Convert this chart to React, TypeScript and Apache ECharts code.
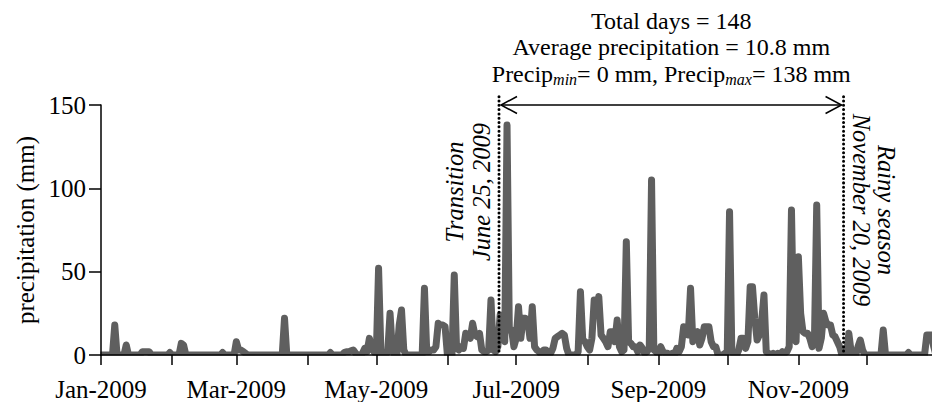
import React, { useEffect, useRef } from "react";
import * as echarts from "echarts";

// Daily precipitation (mm), 2009, one array per month
const jan = [0, 0, 0, 0, 0, 0, 18, 0, 0, 0, 0, 6, 0, 0, 0, 0, 0, 0, 2, 2, 2, 2, 0, 0, 0, 0, 0, 0, 0, 0, 1.5];
const feb = [0, 0, 0, 0, 7, 6, 0, 0, 0, 0, 0, 0, 0, 0, 0, 0, 0, 0, 0, 0, 0, 0, 1.5, 0, 0, 0, 0, 0];
const mar = [8, 3, 3, 2, 1, 0, 0, 0, 0, 0, 0, 0, 0, 0, 0, 0, 0, 0, 0, 0, 0, 22, 0, 0, 0, 0, 0, 0, 0, 0, 0];
const apr = [0, 0, 0, 0, 0, 0, 0, 0, 0, 0, 1.5, 0, 0, 0, 0, 0, 1.5, 2, 2, 2.5, 3, 1, 0, 0, 1, 4, 2, 10, 4, 2];
const may = [0, 52, 3, 0, 0, 2, 25, 3, 0, 0, 18, 27, 3, 0, 0, 0, 0, 0, 0, 0, 0, 40, 2, 2, 3, 3, 5, 19, 18, 18, 17];
const jun = [0, 0, 0, 48, 4, 3, 5, 4, 13, 12, 10, 19, 12, 11, 13, 3, 2, 2, 3, 33, 3, 2, 5, 24, 12, 8, 138, 15, 15, 5];
const jul = [10, 29, 10, 22, 22, 21, 10, 29, 5, 3, 2, 0, 3, 3, 0, 1, 4, 10, 11, 12, 13, 12, 4, 0, 0, 0, 0, 2, 38, 9, 8];
const aug = [5, 3, 10, 33, 28, 35, 12, 10, 8, 5, 14, 14, 8, 21, 5, 2, 3, 68, 8, 7, 5, 5, 2, 6, 4, 1, 2, 4, 105, 3, 2];
const sep = [0, 5, 2, 1, 1, 0, 1, 0, 4, 2, 5, 17, 16, 12, 40, 8, 12, 14, 6, 10, 17, 17, 17, 8, 5, 5, 0, 0, 0, 1];
const oct = [2, 86, 2, 0, 0, 3, 10, 10, 4, 8, 41, 41, 22, 9, 12, 20, 36, 2, 1, 0, 1, 0, 1, 0, 2, 1, 2, 5, 87, 10, 8];
const nov = [59, 25, 14, 13, 13, 10, 5, 8, 90, 4, 10, 25, 20, 18, 18, 12, 11, 8, 5, 0, 0, 0, 13, 2, 0, 0, 5, 9, 3, 0];
const dec = [0, 0, 0, 0, 0, 0, 0, 15, 0, 0, 0, 0, 0, 0, 0, 0, 0, 0, 1.5, 0, 0, 0, 0, 0, 0, 0, 12, 12, 12, 5, 0];

const months = [jan, feb, mar, apr, may, jun, jul, aug, sep, oct, nov, dec];

// Axis ticks (day of year, Jan 1 = 0)
const monthStartDays = [0, 31, 59, 90, 120, 151, 181, 212, 243, 273, 304, 334];
const labelDays = [0, 59, 120, 181, 243, 304];
const tickLabels = ["Jan-2009", "Mar-2009", "May-2009", "Jul-2009", "Sep-2009", "Nov-2009"];
const yMax = 150;
const yInterval = 50;

// Annotations
const transitionDay = 173.5;
const rainyDay = 323.7;
const transitionLabels = ["Transition", "June 25, 2009"];
const rainyLabels = ["November 20, 2009", "Rainy season"];
const statLine1 = "Total days = 148";
const statLine2 = "Average precipitation = 10.8 mm";
const statLine3 = "Precip{sub|min}= 0 mm, Precip{sub|max}= 138 mm";

const FONT = "Liberation Serif";

export default function App() {
  const ref = useRef<HTMLDivElement>(null);

  useEffect(() => {
    const chart = echarts.init(ref.current!, null, { renderer: "svg" });
    const daily = months.flat();
    const data = daily.map((v, i) => [i, v]);

    chart.setOption({
      animation: false,
      backgroundColor: "#fff",
      textStyle: { fontFamily: FONT },
      grid: { left: 101, top: 105, width: 835, height: 250, containLabel: false },
      xAxis: {
        type: "value",
        min: 0,
        max: 364,
        z: 5,
        splitLine: { show: false },
        axisLine: { show: true, lineStyle: { color: "#000", width: 1.5 } },
        axisTick: {
          show: true,
          inside: false,
          length: 10,
          lineStyle: { color: "#000", width: 1.5 },
          customValues: monthStartDays,
        },
        axisLabel: {
          show: true,
          margin: 22,
          color: "#000",
          fontSize: 25,
          fontFamily: FONT,
          customValues: labelDays,
          formatter: (v: number) => {
            const i = labelDays.indexOf(Math.round(v));
            return i >= 0 ? tickLabels[i] : "";
          },
        },
      },
      yAxis: {
        type: "value",
        min: 0,
        max: yMax,
        interval: yInterval,
        z: 5,
        splitLine: { show: false },
        axisLine: { show: true, lineStyle: { color: "#000", width: 1.5 } },
        axisTick: { show: true, inside: false, length: 12, lineStyle: { color: "#000", width: 1.5 } },
        axisLabel: { margin: 15, color: "#000", fontSize: 25, fontFamily: FONT },
        name: "precipitation (mm)",
        nameLocation: "middle",
        nameRotate: 90,
        nameGap: 59,
        nameTextStyle: { color: "#000", fontSize: 25, fontFamily: FONT },
      },
      series: [
        {
          type: "line",
          data,
          z: 2,
          silent: true,
          symbol: "none",
          showSymbol: false,
          lineStyle: { color: "#5f5f5f", width: 7, cap: "round", join: "round" },
          emphasis: { disabled: true },
        },
      ],
    });

    const px = (d: number, v: number) => chart.convertToPixel({ gridIndex: 0 }, [d, v]) as number[];
    const [x0, y0] = px(0, 0);
    const [, yTop] = px(0, 155);
    const [, yArrow] = px(0, yMax);
    const [tx] = px(transitionDay, 0);
    const [rx] = px(rainyDay, 0);
    const midX = (tx + rx) / 2;

    const dotStyle = { stroke: "#000", lineWidth: 3, lineDash: [0.01, 4.3], lineCap: "round" };
    const arrowStyle = { stroke: "#000", lineWidth: 1.5, fill: null };
    const italic = { fill: "#000", fontSize: 24.5, fontFamily: FONT, fontStyle: "italic", align: "center", verticalAlign: "middle" };
    const plain = { fill: "#000", fontSize: 24, fontFamily: FONT, align: "center", verticalAlign: "middle" };
    const midY = (y0 + yArrow) / 2;

    chart.setOption({
      graphic: [
        { type: "rect", z: 3, silent: true, shape: { x: x0 - 8, y: y0 + 0.6, width: 860, height: 8 }, style: { fill: "#fff" } },
        { type: "rect", z: 3, silent: true, shape: { x: x0 - 8, y: y0 - 10, width: 7.4, height: 18 }, style: { fill: "#fff" } },
        { type: "line", z: 10, silent: true, shape: { x1: tx, y1: yTop, x2: tx, y2: y0 }, style: dotStyle },
        { type: "line", z: 10, silent: true, shape: { x1: rx, y1: yTop, x2: rx, y2: y0 }, style: dotStyle },
        { type: "line", z: 10, silent: true, shape: { x1: tx + 2, y1: yArrow, x2: rx - 2, y2: yArrow }, style: arrowStyle },
        {
          type: "polyline", z: 10, silent: true,
          shape: { points: [[tx + 18, yArrow - 8.5], [tx + 2, yArrow], [tx + 18, yArrow + 8.5]] },
          style: arrowStyle,
        },
        {
          type: "polyline", z: 10, silent: true,
          shape: { points: [[rx - 18, yArrow - 8.5], [rx - 2, yArrow], [rx - 18, yArrow + 8.5]] },
          style: arrowStyle,
        },
        { type: "text", z: 10, silent: true, x: tx - 44.5, y: midY - 38, rotation: Math.PI / 2, style: { ...italic, text: transitionLabels[0] } },
        { type: "text", z: 10, silent: true, x: tx - 17.5, y: midY - 38, rotation: Math.PI / 2, style: { ...italic, text: transitionLabels[1] } },
        { type: "text", z: 10, silent: true, x: rx + 17.7, y: midY - 20, rotation: -Math.PI / 2, style: { ...italic, text: rainyLabels[0] } },
        { type: "text", z: 10, silent: true, x: rx + 43, y: midY - 20, rotation: -Math.PI / 2, style: { ...italic, text: rainyLabels[1] } },
        { type: "text", z: 10, silent: true, x: midX, y: 20.7, style: { ...plain, text: statLine1 } },
        { type: "text", z: 10, silent: true, x: midX, y: 47.2, style: { ...plain, text: statLine2 } },
        {
          type: "text", z: 10, silent: true, x: midX, y: 74.4,
          style: {
            ...plain,
            text: statLine3,
            lineHeight: 27,
            rich: {
              sub: { fontSize: 16, fontFamily: FONT, fontStyle: "italic", fill: "#000", lineHeight: 10, verticalAlign: "bottom" },
            },
          },
        },
      ],
    });

    return () => chart.dispose();
  }, []);

  return (
    <div style={{ position: "absolute", left: 0, top: 0, width: 932, height: 402, overflow: "hidden", background: "#fff" }}>
      <div ref={ref} style={{ width: 938, height: 402 }} />
    </div>
  );
}
